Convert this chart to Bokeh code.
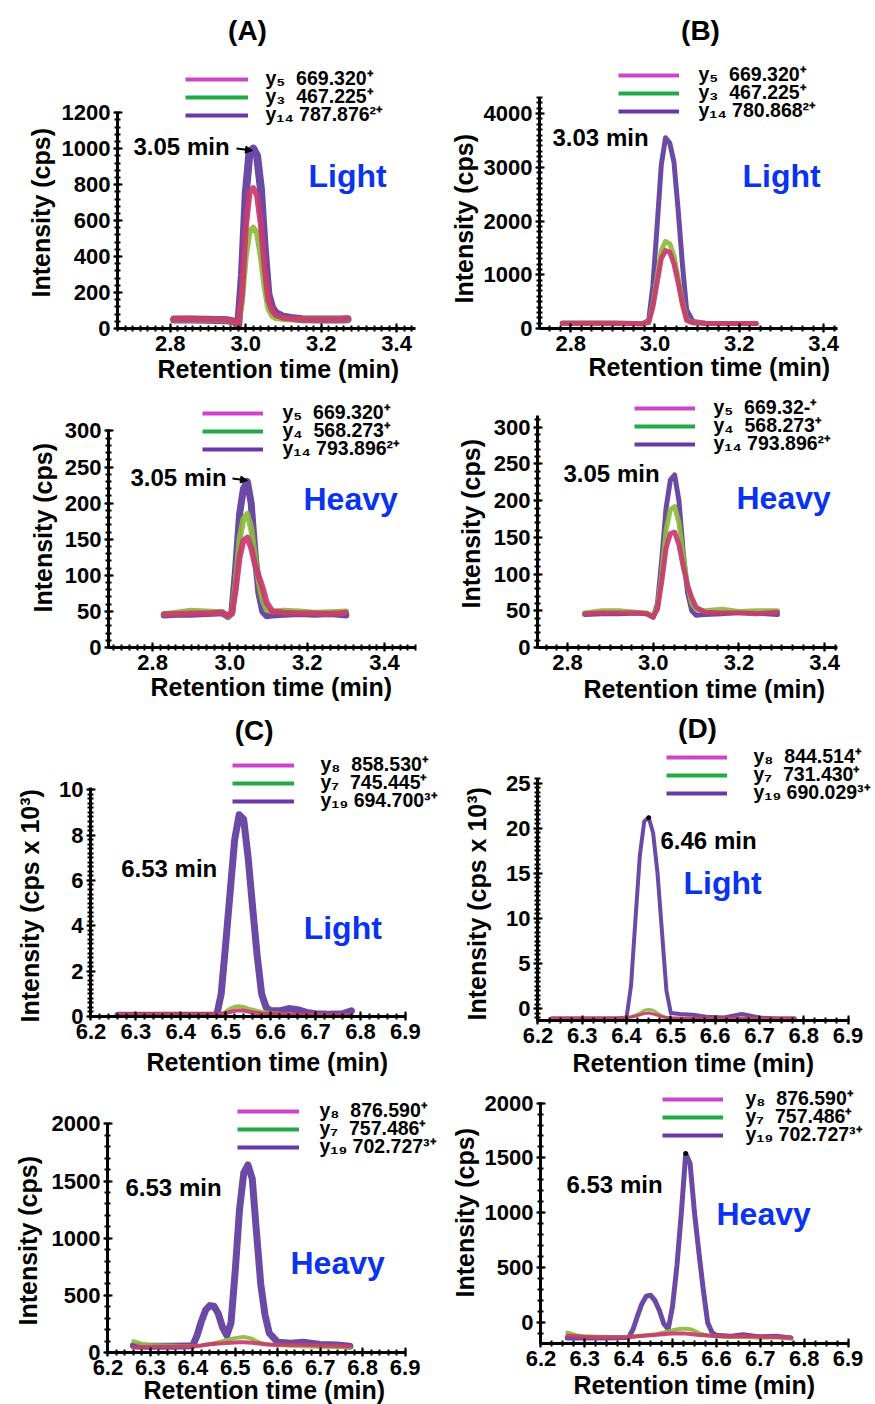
import numpy as np
from bokeh.plotting import figure
from bokeh.models import (Range1d, FixedTicker, Label, Legend, LegendItem, Arrow,
                          NormalHead, PrintfTickFormatter, Title)
from bokeh.layouts import column, row
from bokeh.embed import file_html
from bokeh.resources import INLINE

FONT = "Liberation Sans"
SP = "\u00a0\u00a0"

# ---------------- data ----------------
# (A) Light
a1_t = [2.81, 2.85, 2.90, 2.95, 2.97, 2.98, 2.99, 3.00, 3.01, 3.02, 3.03, 3.04, 3.05,
        3.06, 3.07, 3.08, 3.10, 3.12, 3.15, 3.20, 3.25, 3.27]
a1_y14 = [50, 50, 48, 46, 38, 15, 300, 750, 980, 1000, 960, 780, 450, 190, 115, 85, 65, 58, 52, 50, 50, 52]
a1_y3 = [50, 50, 48, 46, 38, 25, 150, 400, 540, 560, 530, 400, 230, 110, 70, 58, 52, 52, 50, 50, 50, 52]
a1_y5 = [52, 54, 50, 48, 40, 20, 200, 560, 760, 780, 740, 580, 340, 160, 100, 75, 60, 55, 52, 50, 50, 55]
a1_legend = ["y₅" + SP + "669.320⁺", "y₃" + SP + "467.225⁺", "y₁₄ 787.876²⁺"]

# (B) Light
b1_t = [2.78, 2.85, 2.90, 2.95, 2.97, 2.985, 2.995, 3.005, 3.015, 3.025, 3.035, 3.045,
        3.055, 3.065, 3.075, 3.09, 3.12, 3.16, 3.20, 3.24]
b1_y14 = [100, 100, 100, 95, 90, 150, 800, 1900, 3050, 3550, 3450, 3100, 2200, 1200, 350, 130, 100, 95, 95, 95]
b1_y3 = [100, 100, 100, 95, 90, 120, 450, 950, 1450, 1620, 1580, 1350, 950, 500, 170, 110, 100, 95, 95, 95]
b1_y5 = [100, 100, 100, 95, 90, 110, 400, 850, 1300, 1450, 1420, 1200, 850, 450, 150, 105, 95, 95, 95, 95]
b1_legend = ["y₅" + SP + "669.320⁺", "y₃" + SP + "467.225⁺", "y₁₄ 780.868²⁺"]

# (A) Heavy
a2_t = [2.83, 2.86, 2.90, 2.94, 2.98, 2.995, 3.005, 3.015, 3.025, 3.035, 3.045, 3.055,
        3.065, 3.075, 3.085, 3.095, 3.11, 3.14, 3.18, 3.22, 3.26, 3.30]
a2_y14 = [45, 46, 46, 47, 48, 43, 48, 110, 185, 220, 230, 200, 130, 75, 50, 44, 45, 46, 47, 46, 47, 45]
a2_y4 = [46, 48, 51, 50, 49, 43, 47, 90, 150, 178, 185, 165, 125, 90, 65, 52, 50, 51, 50, 48, 49, 50]
a2_y5 = [46, 46, 47, 47, 48, 44, 47, 80, 125, 148, 152, 138, 115, 98, 82, 62, 50, 48, 47, 47, 46, 48]
a2_legend = ["y₅" + SP + "669.320⁺", "y₄" + SP + "568.273⁺", "y₁₄ 793.896²⁺"]

# (B) Heavy
b2_t = [2.84, 2.88, 2.92, 2.96, 2.985, 3.00, 3.01, 3.02, 3.03, 3.04, 3.05, 3.06, 3.07,
        3.08, 3.09, 3.10, 3.12, 3.16, 3.20, 3.24, 3.29]
b2_y14 = [45, 46, 46, 47, 46, 41, 60, 120, 190, 228, 235, 200, 130, 75, 50, 44, 45, 46, 48, 47, 45]
b2_y4 = [47, 50, 50, 48, 47, 42, 55, 100, 160, 188, 192, 170, 125, 85, 60, 52, 50, 52, 49, 50, 50]
b2_y5 = [46, 47, 47, 47, 46, 42, 52, 90, 135, 155, 157, 140, 110, 85, 68, 55, 48, 47, 47, 46, 48]
b2_legend = ["y₅" + SP + "669.32-⁺", "y₄" + SP + "568.273⁺", "y₁₄ 793.896²⁺"]

# (C) Light  (cps x 10^3)
c1_t = [6.26, 6.30, 6.35, 6.40, 6.45, 6.48, 6.49, 6.50, 6.51, 6.52, 6.53, 6.54, 6.55,
        6.56, 6.57, 6.58, 6.59, 6.60, 6.62, 6.64, 6.66, 6.68, 6.70, 6.73, 6.76, 6.78]
c1_y19 = [0.05, 0.05, 0.05, 0.05, 0.05, 0.05, 1.0, 3.2, 5.5, 7.8, 8.9, 8.7, 7.0, 4.8, 2.7,
          1.0, 0.4, 0.25, 0.25, 0.35, 0.3, 0.18, 0.12, 0.1, 0.12, 0.25]
c1_y7 = [0.05, 0.05, 0.05, 0.05, 0.05, 0.05, 0.1, 0.2, 0.35, 0.43, 0.45, 0.42, 0.35, 0.3,
         0.25, 0.2, 0.18, 0.15, 0.12, 0.08, 0.05, 0.05, 0.05, 0.05, 0.05, 0.05]
c1_y8 = [0.1, 0.1, 0.1, 0.1, 0.1, 0.1, 0.12, 0.15, 0.2, 0.25, 0.27, 0.26, 0.22, 0.18, 0.15,
         0.13, 0.12, 0.12, 0.1, 0.1, 0.1, 0.1, 0.1, 0.08, 0.08, 0.08]
c1_legend = ["y₈" + SP + "858.530⁺", "y₇" + SP + "745.445⁺", "y₁₉ 694.700³⁺"]

# (D) Light  (cps x 10^3, as read against the printed axis labels)
d1_t = [6.23, 6.28, 6.33, 6.38, 6.40, 6.41, 6.42, 6.43, 6.44, 6.45, 6.46, 6.47, 6.48,
        6.49, 6.50, 6.52, 6.55, 6.58, 6.62, 6.66, 6.70, 6.74, 6.78]
d1_y19 = [-1.1, -1.1, -1.1, -1.1, -1.0, 2.5, 9.8, 17.0, 20.8, 21.2, 19.5, 15.0, 8.5, 2.0,
          -0.5, -0.6, -0.7, -0.9, -1.0, -0.6, -1.0, -1.1, -1.1]
d1_y7 = [-1.1, -1.1, -1.1, -1.1, -1.0, -0.9, -0.7, -0.5, -0.2, -0.1, -0.2, -0.5, -0.8,
         -1.0, -1.05, -1.1, -1.1, -1.1, -1.1, -1.1, -1.1, -1.1, -1.1]
d1_y8 = [-1.05, -1.05, -1.05, -1.05, -1.0, -0.95, -0.85, -0.7, -0.55, -0.5, -0.6, -0.75,
         -0.9, -1.0, -1.05, -1.05, -1.05, -1.05, -1.05, -1.05, -1.05, -1.05, -1.05]
d1_legend = ["y₈" + SP + "844.514⁺", "y₇" + SP + "731.430⁺", "y₁₉ 690.029³⁺"]

# (C) Heavy
c2_t = [6.26, 6.28, 6.30, 6.35, 6.40, 6.41, 6.42, 6.43, 6.44, 6.45, 6.46, 6.47, 6.48, 6.49,
        6.50, 6.51, 6.52, 6.53, 6.54, 6.55, 6.56, 6.57, 6.58, 6.60, 6.63, 6.66, 6.70, 6.74, 6.77]
c2_y19 = [60, 55, 55, 55, 60, 150, 270, 370, 410, 405, 340, 220, 150, 260, 720, 1250, 1570,
          1640, 1520, 1050, 600, 330, 170, 90, 80, 90, 70, 65, 55]
c2_y7 = [100, 75, 65, 60, 55, 58, 62, 68, 75, 82, 90, 100, 110, 118, 125, 132, 135, 130,
         118, 100, 85, 75, 70, 65, 60, 55, 50, 48, 45]
c2_y8 = [45, 45, 48, 50, 55, 58, 62, 67, 72, 75, 78, 80, 83, 86, 88, 90, 90, 88, 85, 80,
         76, 73, 70, 68, 68, 68, 62, 58, 55]
c2_legend = ["y₈" + SP + "876.590⁺", "y₇" + SP + "757.486⁺", "y₁₉ 702.727³⁺"]

# (D) Heavy (as read against the printed axis labels)
d2_t = [6.26, 6.28, 6.30, 6.35, 6.40, 6.41, 6.42, 6.43, 6.44, 6.45, 6.46, 6.47, 6.48, 6.49,
        6.50, 6.51, 6.52, 6.53, 6.54, 6.55, 6.56, 6.57, 6.58, 6.59, 6.60, 6.63, 6.66, 6.70,
        6.74, 6.77]
d2_y19 = [-140, -140, -138, -140, -135, -60, 60, 170, 240, 250, 200, 110, -10, -60, 150, 520,
          1000, 1540, 1450, 1000, 640, 300, 0, -90, -115, -125, -110, -130, -125, -140]
d2_y7 = [-90, -115, -125, -130, -128, -126, -122, -118, -115, -110, -105, -98, -90, -80, -70,
         -62, -55, -55, -60, -75, -95, -108, -115, -120, -125, -130, -130, -135, -135, -140]
d2_y8 = [-120, -125, -130, -132, -130, -128, -125, -121, -118, -115, -112, -108, -105, -102,
         -100, -99, -98, -100, -104, -108, -112, -115, -118, -120, -122, -125, -122, -125,
         -130, -135]
d2_legend = ["y₈" + SP + "876.590⁺", "y₇" + SP + "757.486⁺", "y₁₉ 702.727³⁺"]

# tick values
ab_xticks = [2.8, 3.0, 3.2, 3.4]
cd_xticks = [6.2, 6.3, 6.4, 6.5, 6.6, 6.7, 6.8, 6.9]
a1_yticks = [0, 200, 400, 600, 800, 1000, 1200]
b1_yticks = [0, 1000, 2000, 3000, 4000]
h_yticks = [0, 50, 100, 150, 200, 250, 300]
c1_yticks = [0, 2, 4, 6, 8, 10]
d1_yticks = [0, 5, 10, 15, 20, 25]
c2_yticks = [0, 500, 1000, 1500, 2000]

# ---------------- styling ----------------
TR_PURPLE = "#5D3B9C"
TR_GREEN = "#8DBA3C"
TR_PINK = "#C83A6E"
LG_COLORS = ["#CC44CC", "#22AA44", "#6A38A8"]
BLUE = "#0A33F0"


class Geo:
    """maps page pixels to data coordinates using the axis box"""
    def __init__(self, box, xa, ya):
        self.L, self.T, self.R, self.B = box
        self.xa, self.ya = xa, ya
        self.kx = (xa[1] - xa[0]) / (self.R - self.L)
        self.ky = (ya[1] - ya[0]) / (self.B - self.T)

    def x(self, px):
        return self.xa[0] + (px - self.L) * self.kx

    def y(self, py):
        return self.ya[0] + (self.B - py) * self.ky


def minor(lo, hi, step):
    start = np.ceil(lo / step - 1e-9) * step
    return [float(v) for v in np.round(np.arange(start, hi + 1e-9, step), 6)]


def label(p, g, px, py, text, size, color="black", align="left"):
    p.add_layout(Label(x=g.x(px), y=g.y(py), text=text, text_font=FONT,
                       text_font_size=size, text_font_style="bold", text_color=color,
                       text_align=align, text_baseline="middle"))


def panel(spec):
    cx, cy, cw, ch = spec["cell"]
    L, T, R, B = spec["box"]
    g = Geo(spec["box"], spec["xa"], spec["ya"])
    x_end = g.x(cx + cw)
    y_end = g.y(cy)
    p = figure(width=cw, height=ch, x_range=Range1d(spec["xa"][0], x_end),
               y_range=Range1d(spec["ya"][0], y_end),
               output_backend="svg", toolbar_location=None,
               min_border_left=L - cx, min_border_right=0,
               min_border_top=0, min_border_bottom=cy + ch - B)
    p.frame_align = False
    p.outline_line_color = None
    p.xgrid.visible = False
    p.ygrid.visible = False
    p.background_fill_color = "white"
    p.border_fill_color = "white"

    p.xaxis.ticker = FixedTicker(ticks=spec["xticks"], minor_ticks=minor(*spec["xa"], spec["xminor"]))
    p.yaxis.ticker = FixedTicker(ticks=spec["yticks"], minor_ticks=minor(*spec["ya"], spec["yminor"]))
    p.xaxis.bounds = spec["xa"]
    p.yaxis.bounds = spec["ya"]
    p.xaxis.formatter = PrintfTickFormatter(format="%.1f")
    p.yaxis.formatter = PrintfTickFormatter(format="%d")
    for ax in (p.xaxis[0], p.yaxis[0]):
        ax.axis_line_width = 3
        ax.axis_line_color = "black"
        ax.major_tick_in = 5
        ax.major_tick_out = 4
        ax.major_tick_line_width = 2
        ax.minor_tick_in = 3
        ax.minor_tick_out = 3
        ax.minor_tick_line_width = 2
        ax.major_label_text_font = FONT
        ax.major_label_text_font_style = "bold"
        ax.major_label_text_font_size = "22px"
        ax.major_label_text_color = "black"
        ax.major_label_standoff = 3

    # axis titles
    yo, ys = spec["ytitle"]
    p.add_layout(Title(text=spec["ylabel"], align="left", offset=yo, standoff=ys,
                       text_font=FONT, text_font_size="25px", text_font_style="bold",
                       text_color="black"), "left")
    xo, xs = spec["xtitle"]
    p.add_layout(Title(text="Retention time (min)", align="left", offset=xo, standoff=xs,
                       text_font=FONT, text_font_size="25px", text_font_style="bold",
                       text_color="black"), "below")

    # traces
    t = spec["t"]
    for ys_, c, wdt in zip(spec["series"], [TR_PURPLE, TR_GREEN, TR_PINK], spec["lw"]):
        p.line(t, ys_, line_color=c, line_width=wdt, line_alpha=0.92,
               line_join="round", line_cap="round")
    if spec.get("apex"):
        top = spec["series"][0]
        i = int(np.argmax(top))
        p.scatter([t[i]], [top[i]], size=4, color="black")

    # legend keys (library legend, keyed on off-screen proxy lines) + legend texts
    lx0, lx1, rows = spec["leg"]
    far = x_end + 10
    dummies = [p.line([far, far + 1], [spec["ya"][0]] * 2, line_color=c, line_width=4)
               for c in LG_COLORS]
    leg = Legend(items=[LegendItem(label=" ", renderers=[r]) for r in dummies],
                 location=(lx0 - L, B - (rows[2] + 9)), orientation="vertical",
                 padding=0, margin=0, spacing=0, glyph_width=lx1 - lx0, glyph_height=18,
                 label_height=18, label_width=0, label_standoff=0,
                 label_text_font_size="1px", background_fill_alpha=0, border_line_alpha=0)
    p.add_layout(leg)
    for txt, ry in zip(spec["legend_text"], rows):
        label(p, g, spec["legx"], ry - 2, txt, "19.5px")

    if spec.get("title"):
        tt, tx, ty = spec["title"]
        label(p, g, tx, ty, tt, "28px", align="center")
    pk, pkx, pky = spec["peak"]
    label(p, g, pkx, pky, pk, "24px")
    if spec.get("arrow"):
        (x0, y0), (x1, y1) = spec["arrow"]
        p.add_layout(Arrow(x_start=g.x(x0), y_start=g.y(y0), x_end=g.x(x1), y_end=g.y(y1),
                           line_width=2, line_color="black",
                           end=NormalHead(size=7, fill_color="black", line_color="black")))
    tg, tgx, tgy = spec["tag"]
    label(p, g, tgx, tgy, tg, "32px", color=BLUE)
    return p


specs = [
    dict(cell=(0, 0, 440, 390), box=(117, 112, 415, 328), xa=(2.66, 3.45), ya=(0, 1201),
         xticks=ab_xticks, xminor=0.02, yticks=a1_yticks, yminor=40,
         ylabel="Intensity (cps)", ytitle=(31, 8), xtitle=(40, -2),
         t=a1_t, series=[a1_y14, a1_y3, a1_y5], lw=(8, 6, 6),
         leg=(185, 248, [79, 97, 115]), legx=265, legend_text=a1_legend,
         title=("(A)", 247, 30), peak=("3.05 min", 133, 146), arrow=((236, 148), (252, 150)),
         tag=("Light", 308, 175)),
    dict(cell=(440, 0, 435, 390), box=(539, 97, 837, 328), xa=(2.726, 3.433), ya=(0, 4300),
         xticks=ab_xticks, xminor=0.025, yticks=b1_yticks, yminor=100,
         ylabel="Intensity (cps)", ytitle=(25, 5), xtitle=(49, -6),
         t=b1_t, series=[b1_y14, b1_y3, b1_y5], lw=(5, 5, 5),
         leg=(618, 679, [75, 93, 111]), legx=698, legend_text=b1_legend,
         title=("(B)", 700, 30), peak=("3.03 min", 552, 137),
         tag=("Light", 742, 175)),
    dict(cell=(0, 390, 440, 320), box=(108, 429, 415, 647), xa=(2.686, 3.48), ya=(0, 302),
         xticks=ab_xticks, xminor=0.02, yticks=h_yticks, yminor=10,
         ylabel="Intensity (cps)", ytitle=(35, 9), xtitle=(42, -4),
         t=a2_t, series=[a2_y14, a2_y4, a2_y5], lw=(7, 6, 6),
         leg=(202, 263, [413, 431, 449]), legx=282, legend_text=a2_legend,
         peak=("3.05 min", 130, 477), arrow=((232, 478), (247, 480)),
         tag=("Heavy", 303, 498)),
    dict(cell=(440, 390, 435, 320), box=(537, 415, 837, 647), xa=(2.73, 3.43), ya=(0, 316),
         xticks=ab_xticks, xminor=0.025, yticks=h_yticks, yminor=10,
         ylabel="Intensity (cps)", ytitle=(39, 12), xtitle=(46, 0),
         t=b2_t, series=[b2_y14, b2_y4, b2_y5], lw=(5, 5, 5),
         leg=(634, 695, [408, 426, 444]), legx=713, legend_text=b2_legend,
         peak=("3.05 min", 563, 473),
         tag=("Heavy", 736, 497)),
    dict(cell=(0, 710, 440, 374), box=(87, 787, 405, 1016), xa=(6.199, 6.901), ya=(0, 10.1),
         xticks=cd_xticks, xminor=0.02, yticks=c1_yticks, yminor=0.2,
         ylabel="Intensity (cps x 10³)", ytitle=(-6, 26), xtitle=(56, 8),
         t=c1_t, series=[c1_y19, c1_y7, c1_y8], lw=(7, 4, 4),
         leg=(229, 291, [765, 783, 801]), legx=319, legend_text=c1_legend,
         title=("(C)", 252, 730), peak=("6.53 min", 118, 868),
         tag=("Light", 302, 927)),
    dict(cell=(440, 710, 435, 374), box=(537, 778, 848, 1020), xa=(6.199, 6.901), ya=(-1.33, 25.55),
         xticks=cd_xticks, xminor=0.025, yticks=d1_yticks, yminor=0.5,
         ylabel="Intensity (cps x 10³)", ytitle=(0, 26), xtitle=(35, 3),
         t=d1_t, series=[d1_y19, d1_y7, d1_y8], lw=(4, 3, 3), apex=True,
         leg=(666, 727, [757, 775, 793]), legx=753, legend_text=d1_legend,
         title=("(D)", 697, 728), peak=("6.46 min", 660, 840),
         tag=("Light", 683, 882)),
    dict(cell=(0, 1084, 440, 320), box=(107, 1123, 405, 1352), xa=(6.199, 6.901), ya=(0, 2003),
         xticks=cd_xticks, xminor=0.02, yticks=c2_yticks, yminor=100,
         ylabel="Intensity (cps)", ytitle=(27, 14), xtitle=(36, -8),
         t=c2_t, series=[c2_y19, c2_y7, c2_y8], lw=(7, 4, 4),
         leg=(237, 299, [1111, 1129, 1147]), legx=319, legend_text=c2_legend,
         peak=("6.53 min", 125, 1187),
         tag=("Heavy", 290, 1262)),
    dict(cell=(440, 1084, 435, 320), box=(540, 1102, 848, 1343), xa=(6.199, 6.901), ya=(-190, 2005),
         xticks=cd_xticks, xminor=0.025, yticks=c2_yticks, yminor=100,
         ylabel="Intensity (cps)", ytitle=(46, 5), xtitle=(33, 1),
         t=d2_t, series=[d2_y19, d2_y7, d2_y8], lw=(5, 4, 4), apex=True,
         leg=(662, 723, [1099, 1117, 1135]), legx=745, legend_text=d2_legend,
         peak=("6.53 min", 566, 1184),
         tag=("Heavy", 716, 1213)),
]

figs = [panel(s) for s in specs]
layout = column(row(figs[0], figs[1]), row(figs[2], figs[3]),
                row(figs[4], figs[5]), row(figs[6], figs[7]))

open("out.html", "w").write(file_html(layout, INLINE))
